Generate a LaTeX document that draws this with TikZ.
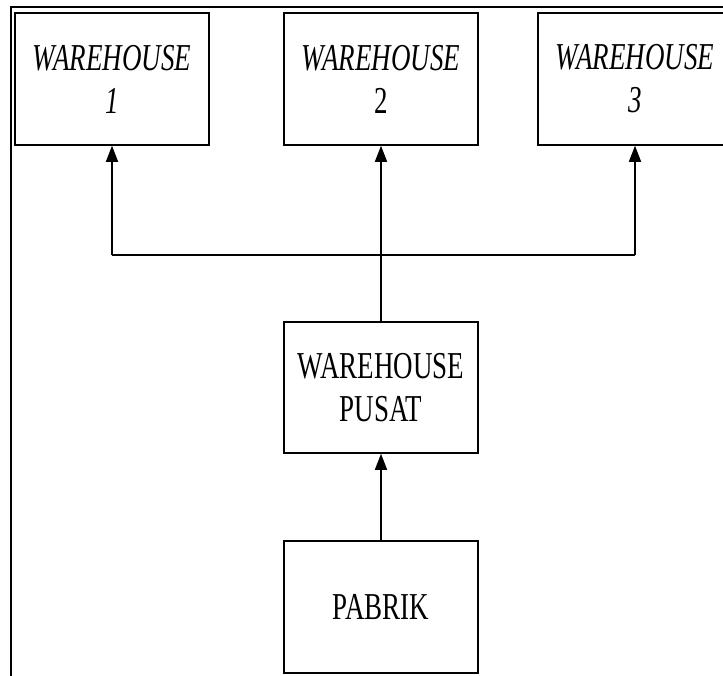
\documentclass[tikz,border=0pt]{standalone}
\usepackage{fontspec}
\setmainfont{Liberation Serif}
\newfontfamily\narrowserif[FakeStretch=0.71]{Liberation Serif}
\usetikzlibrary{arrows.meta,positioning}

\begin{document}
\begin{tikzpicture}
  [
  x=0.5pt, y=-0.5pt,
  whnode/.style={draw, line width=0.75pt, minimum width=97pt, minimum height=66pt, align=center, inner sep=0pt, font=\narrowserif\fontsize{19}{21.5}\selectfont},
  link/.style={draw, line width=0.75pt},
  arrowlink/.style={link, -{Triangle[length=8pt, width=6pt]}}
  ]
  \useasboundingbox (0,0) rectangle (723,675);
  \clip (0,0) rectangle (723,675);
  % outer frame, runs off the page on the right and bottom
  \draw[line width=1.25pt] (11,7) rectangle (760,720);

  \node[whnode] (w1) at (112,79) {\textit{WAREHOUSE}\\\textit{1}};
  \node[whnode] (w2) at (381,79) {\textit{WAREHOUSE}\\2};
  \node[whnode] (w3) at (635,79) {\textit{WAREHOUSE}\\\textit{3}};
  \node[whnode, minimum height=65.5pt] (pusat) at (381,387.5) {WAREHOUSE\\PUSAT};
  \node[whnode] (pabrik) at (381,607) {PABRIK};

  \coordinate (split) at (381,255);
  \draw[link] (pusat.north) -- (split);
  \draw[link] (w1.south |- split) -- (w3.south |- split);
  \draw[arrowlink] (w1.south |- split) -- (w1.south);
  \draw[arrowlink] (split) -- (w2.south);
  \draw[arrowlink] (w3.south |- split) -- (w3.south);
  \draw[arrowlink] (pabrik) -- (pusat);
\end{tikzpicture}
\end{document}
